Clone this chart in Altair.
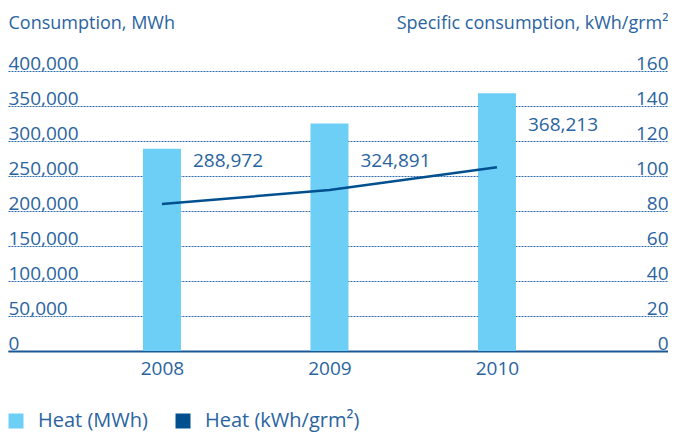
import altair as alt
import pandas as pd

years = [2008, 2009, 2010]
heat_mwh = [288972, 324891, 368213]
heat_specific = [84, 92, 105]
series_names = ["Heat (MWh)", "Heat (kWh/grm²)"]
series_colors = ["#6dcff6", "#00508f"]
left_ticks = [0, 50000, 100000, 150000, 200000, 250000, 300000, 350000, 400000]
right_ticks = [0, 20, 40, 60, 80, 100, 120, 140, 160]
label_dy = [12, 37, 32]  # vertical offset of each value label below its bar top

df = pd.DataFrame({
    "year": years,
    "mwh": heat_mwh,
    "kwh": heat_specific,
    "series": [series_names[0]] * len(years),
})

FONT = "Open Sans"
TXT = "#2a64a0"

xscale = alt.Scale(domain=[2007.081, 2011.021], nice=False, zero=False, padding=0)
xenc = alt.X("year:Q", scale=xscale,
             axis=alt.Axis(values=years, format="d", title=None, grid=False, ticks=False,
                           domain=True, domainColor="#1a5898", domainWidth=2.2,
                           labelFontSize=19, labelColor=TXT, labelPadding=8, labelFont=FONT))

yscale = alt.Scale(domain=[0, 400000], nice=False)
yaxis_left = alt.Axis(orient="left", values=left_ticks, format=",d",
                      grid=True, gridColor="#2e6aa8", gridDash=[2, 1], gridWidth=1,
                      domain=False, ticks=False, labelAlign="left", labelPadding=0,
                      labelBaseline="alphabetic", labelOffset=-2, labelFontSize=19,
                      labelColor=TXT, labelFont=FONT, labelOverlap=False, labelBound=False,
                      title="Consumption, MWh", titleAngle=0, titleX=0, titleY=-43,
                      titleAlign="left", titleBaseline="alphabetic", titleFontSize=18,
                      titleFontWeight="normal", titleColor=TXT, titleFont=FONT)

bars = alt.Chart(df).mark_bar(size=38).encode(
    x=xenc,
    y=alt.Y("mwh:Q", scale=yscale, axis=yaxis_left),
    color=alt.Color("series:N",
                    scale=alt.Scale(domain=series_names, range=series_colors),
                    legend=alt.Legend(title=None, orient="none", legendX=-2, legendY=340,
                                      direction="horizontal", symbolType="square",
                                      symbolSize=225, symbolStrokeWidth=0, labelFontSize=20,
                                      labelColor=TXT, labelFont=FONT, labelOffset=12,
                                      columnPadding=25, symbolOpacity=1, padding=0)),
)

labels = []
for yr, dy in zip(years, label_dy):
    labels.append(
        alt.Chart(df).transform_filter(alt.datum.year == yr).mark_text(
            align="left", baseline="middle", dx=31, dy=dy, fontSize=19, color=TXT, font=FONT
        ).encode(x=alt.X("year:Q", scale=xscale),
                 y=alt.Y("mwh:Q", scale=yscale, axis=yaxis_left),
                 text=alt.Text("mwh:Q", format=","))
    )

line = alt.Chart(df).mark_line(color=series_colors[1], strokeWidth=2.5).encode(
    x=alt.X("year:Q", scale=xscale),
    y=alt.Y("kwh:Q", scale=alt.Scale(domain=[0, 160], nice=False),
            axis=alt.Axis(orient="right", values=right_ticks, format="d", grid=False,
                          domain=False, ticks=False, labelAlign="right", labelPadding=0,
                          labelBaseline="alphabetic", labelOffset=-2, labelFontSize=19,
                          labelColor=TXT, labelFont=FONT, labelOverlap=False, labelBound=False,
                          title="Specific consumption, kWh/grm²", titleAngle=0, titleX=0,
                          titleY=-43, titleAlign="right", titleBaseline="alphabetic",
                          titleFontSize=18, titleFontWeight="normal", titleColor=TXT,
                          titleFont=FONT)),
)

chart = alt.layer(alt.layer(bars, *labels), line).resolve_scale(y="independent").properties(
    width=660, height=280,
    autosize=alt.AutoSizeParams(type="none"),
    padding={"left": 0, "top": 63, "right": 0, "bottom": 82},
).configure_view(stroke=None)

chart.save("out.html", embed_options={"renderer": "svg", "actions": False})
